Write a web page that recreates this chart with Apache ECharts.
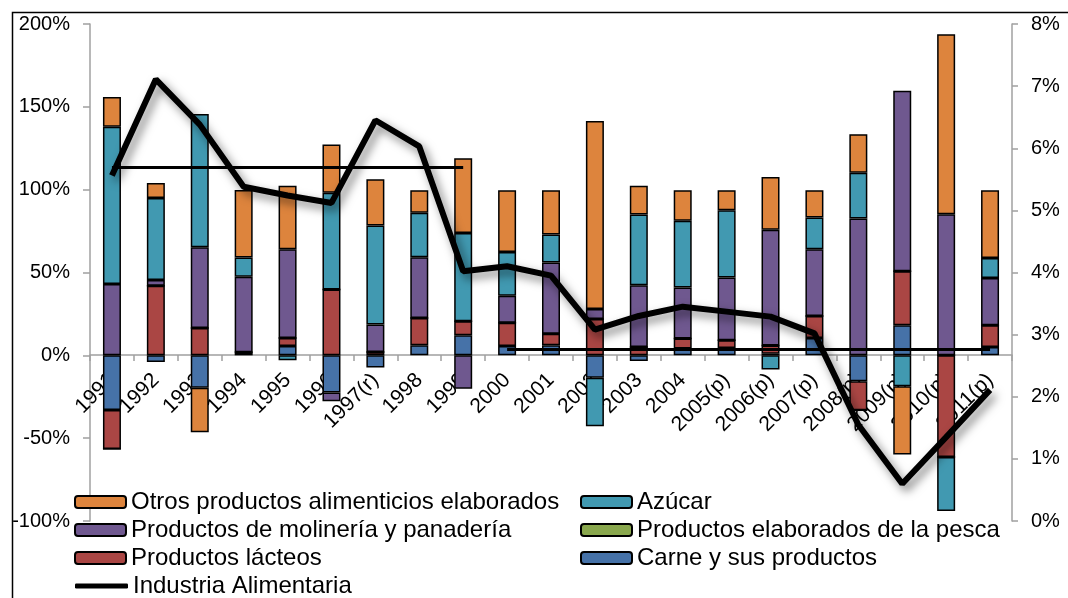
<!DOCTYPE html>
<html>
<head>
<meta charset="utf-8">
<script src="https://cdn.jsdelivr.net/npm/echarts@6/dist/echarts.min.js"></script>
<style>
html,body{margin:0;padding:0;background:#fff;}
#chart{width:1068px;height:598px;}
</style>
</head>
<body>
<div id="chart"></div>
<script>
const categories = ['1991','1992','1993','1994','1995','1996','1997(r)','1998','1999','2000','2001','2002','2003','2004','2005(p)','2006(p)','2007(p)','2008(p)','2009(p)','2010(p)','2011(p)'];
const carne     = [-33, -4, -19.5, 1.5, 5.7, -22.5, -7.4, 6.1, 12.1, 5.6, 6.1, -13.5, -3.4, 4.1, 4.5, 1, 10.5, -15.7, 18.2, 0, 5];
const lacteos   = [-23.5, 42, 16.5, 0.3, 4.8, 39.7, 2, 16.5, 8.5, 14, 7, 22, 5, 6, 4.6, 5, 13.3, -17.5, 32.6, -61.4, 13.2];
const pesca     = [0, 0, 0, 0, 0, 0, 0, 0, 0, 0, 0, 0, 0, 0, 0, 0, 0, 0, 0, 0, 0];
const molineria = [43, 3.5, 48.8, 45.7, 53.6, -5.2, 16.6, 36.6, -20.1, 16.3, 42.9, 6, 37.3, 30.8, 37.9, 69.8, 40.3, 82.6, 108.9, 85.2, 28.5];
const azucar    = [95, 49.5, 80.3, 11.6, -3, 58.4, 59.7, 26.8, 53.3, 26.5, 16.9, -29.3, 42.7, 40.3, 40.6, -8.6, 19.1, 27.6, -18.7, -32.6, 12.1];
const otros     = [18, 9, -27, 40.7, 38.2, 29.2, 28, 13.7, 45.1, 37.3, 26.8, 113.4, 17.3, 18.5, 12.1, 31.8, 16.5, 23.3, -41.1, 108.6, 40.9];
const industria = [5.56, 7.11, 6.38, 5.38, 5.24, 5.12, 6.45, 6.03, 4.02, 4.10, 3.95, 3.08, 3.30, 3.45, 3.37, 3.29, 3.02, 1.55, 0.60, 1.35, 2.11];
const promedio1 = [5.69, 5.69, 5.69, 5.69, 5.69, 5.69, 5.69, 5.69, 5.69, null, null, null, null, null, null, null, null, null, null, null, null];
const promedio2 = [null, null, null, null, null, null, null, null, null, 2.76, 2.76, 2.76, 2.76, 2.76, 2.76, 2.76, 2.76, 2.76, 2.76, 2.76, 2.76];
const leftTicks = [-100, -50, 0, 50, 100, 150, 200];
const rightTicks = [0, 1, 2, 3, 4, 5, 6, 7, 8];

const FONT = '"Liberation Sans", Arial, sans-serif';

function barSeries(name, data, color) {
  return {
    name: name, type: 'bar', stack: 'total', data: data, barWidth: 18,
    yAxisIndex: 0,
    itemStyle: { color: color, borderColor: '#000', borderWidth: 1.5 },
    emphasis: { disabled: true }
  };
}

const legendBase = {
  orient: 'vertical', height: 130, padding: 0, itemWidth: 51, itemHeight: 12, itemGap: 4,
  textStyle: { fontSize: 24, lineHeight: 24, color: '#000', fontFamily: FONT }
};

const chart = echarts.init(document.getElementById('chart'), null, { renderer: 'canvas' });
chart.setOption({
  animation: false,
  backgroundColor: '#fff',
  textStyle: { fontFamily: FONT },
  graphic: [{
    type: 'rect', left: 10, top: 10, z: -10,
    shape: { x: 0, y: 0, width: 1200, height: 700 },
    style: { fill: 'none', stroke: '#000', lineWidth: 1.5 }
  }],
  grid: { left: 90, right: 56, top: 24, bottom: 77, containLabel: false },
  legend: [
    Object.assign({}, legendBase, {
      left: 74, top: 490,
      data: ['Otros productos alimenticios elaborados', 'Productos de molinería y panadería', 'Productos lácteos']
    }),
    Object.assign({}, legendBase, {
      left: 75, top: 574, itemWidth: 53, itemHeight: 5, itemGap: 3,
      data: [{ name: 'Industria Alimentaria', icon: 'roundRect', itemStyle: { color: '#000', borderWidth: 0 } }]
    }),
    Object.assign({}, legendBase, {
      left: 580, top: 490,
      data: ['Azúcar', 'Productos elaborados de la pesca', 'Carne y sus productos']
    })
  ],
  xAxis: {
    type: 'category', data: categories, boundaryGap: true, position: 'bottom', offset: -166,
    axisLine: { onZero: false, lineStyle: { color: '#a0a0a0', width: 1.5 } },
    axisTick: { show: true, length: 6, alignWithLabel: false, lineStyle: { color: '#a0a0a0', width: 1.5 } },
    axisLabel: { interval: 0, rotate: 45, margin: 22, fontSize: 21, color: '#000', fontFamily: FONT }
  },
  yAxis: [
    {
      type: 'value', min: -100, max: 200, interval: 50, position: 'left',
      splitLine: { show: false },
      axisLine: { show: true, lineStyle: { color: '#a0a0a0', width: 1.5 } },
      axisTick: { show: true, length: 7, lineStyle: { color: '#a0a0a0', width: 1.5 } },
      axisLabel: { formatter: '{value}%', fontSize: 20, margin: 20, color: '#000', fontFamily: FONT }
    },
    {
      type: 'value', min: 0, max: 8, interval: 1, position: 'right',
      splitLine: { show: false },
      axisLine: { show: true, lineStyle: { color: '#a0a0a0', width: 1.5 } },
      axisTick: { show: true, length: 6, lineStyle: { color: '#a0a0a0', width: 1.5 } },
      axisLabel: { formatter: '{value}%', fontSize: 20, margin: 19, color: '#000', fontFamily: FONT }
    }
  ],
  series: [
    barSeries('Carne y sus productos', carne, '#4672A8'),
    barSeries('Productos lácteos', lacteos, '#AA4644'),
    barSeries('Productos elaborados de la pesca', pesca, '#8AA84E'),
    barSeries('Productos de molinería y panadería', molineria, '#6F588F'),
    barSeries('Azúcar', azucar, '#4199B1'),
    barSeries('Otros productos alimenticios elaborados', otros, '#DD843D'),
    {
      name: 'Industria Alimentaria', type: 'line', yAxisIndex: 1, data: industria,
      symbol: 'none', z: 5,
      lineStyle: { color: '#000', width: 6, shadowColor: 'rgba(0,0,0,0.5)', shadowBlur: 10, shadowOffsetX: 4, shadowOffsetY: 5 },
      itemStyle: { color: '#000' },
      emphasis: { disabled: true }
    },
    {
      name: 'Promedio 1991-1999', type: 'line', yAxisIndex: 1, data: promedio1,
      symbol: 'none', z: 4, lineStyle: { color: '#000', width: 3 }, emphasis: { disabled: true }
    },
    {
      name: 'Promedio 2000-2011', type: 'line', yAxisIndex: 1, data: promedio2,
      symbol: 'none', z: 4, lineStyle: { color: '#000', width: 3 }, emphasis: { disabled: true }
    }
  ]
});
</script>
</body>
</html>
